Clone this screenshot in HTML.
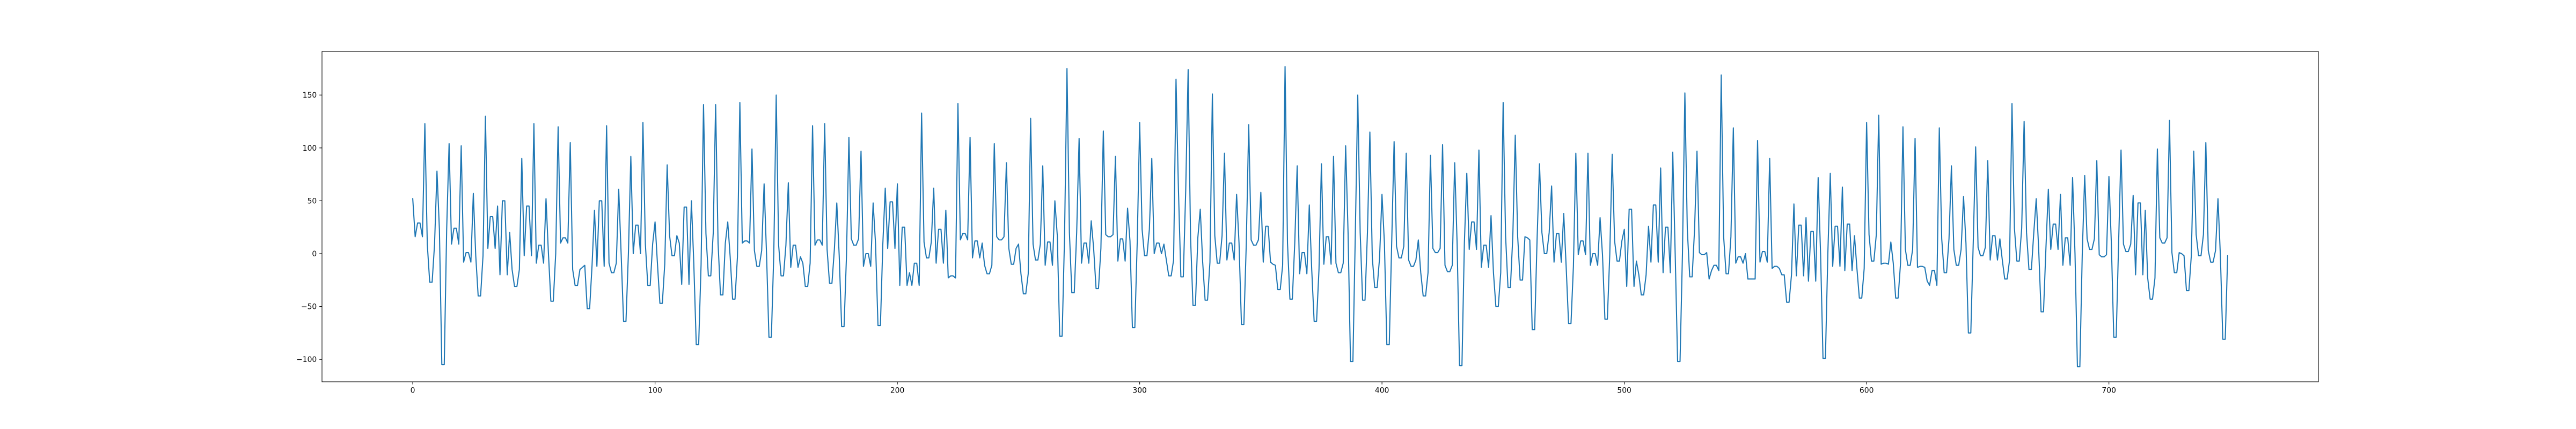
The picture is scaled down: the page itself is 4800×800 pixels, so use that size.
<!DOCTYPE html>
<html><head><meta charset="utf-8"><style>
html,body{margin:0;padding:0;background:#fff;}
svg{display:block;}
text{font-family:"DejaVu Sans","Liberation Sans",sans-serif;font-size:13.9px;fill:#000;}
</style></head><body>
<svg id="chart" width="4800" height="800" viewBox="0 0 4800 800" xmlns="http://www.w3.org/2000/svg">
<rect x="0" y="0" width="4800" height="800" fill="#fff"/>
<g id="xticks"></g>
<g id="yticks"></g>
<path id="series" fill="none" stroke="#1f77b4" stroke-width="2.08" stroke-linejoin="round" stroke-linecap="square"/>
<rect x="600" y="96" width="3720" height="616" fill="none" stroke="#000" stroke-width="1.11"/>
</svg>
<script>
const values = [
52,16,29,29,16, 123,9,-27,-27,9,
78,23,-105,-105,23, 104,9,24,24,9,
102,-8,1,1,-8, 57,-2,-40,-40,-2,
130,5,35,35,5, 45,-20,50,50,-20,
20,-15,-31,-31,-15, 90,-2,45,45,-2,
123,-9,8,8,-9, 52,0,-45,-45,0,
120,10,15,15,10, 105,-15,-30,-30,-15,
-13,-11,-52,-52,-11, 41,-12,50,50,-12,
121,-9,-18,-18,-9, 61,0,-64,-64,0,
92,0,27,27,0, 124,9,-30,-30,9,
30,-10,-47,-47,-10, 84,17,-2,-2,17,
10,-29,44,44,-29, 50,-10,-86,-86,-10,
141,19,-21,-21,19, 141,10,-39,-39,10,
30,-3,-43,-43,-3, 143,10,12,12,10,
99,3,-12,-12,3, 66,0,-79,-79,0,
150,8,-21,-21,8, 67,-13,8,8,-13,
-3,-9,-31,-31,-9, 121,8,13,13,8,
123,4,-28,-28,4, 48,-2,-69,-69,-2,
110,14,8,8,14, 97,-12,0,0,-12,
48,9,-68,-68,9, 62,5,49,49,5,
66,-30,25,25,-30, -18,-30,-9,-9,-30,
133,11,-4,-4,11, 62,-9,23,23,-9,
41,-23,-21,-21,-23, 142,13,19,19,13,
110,-4,12,12,-4, 10,-11,-19,-19,-11,
104,16,13,13,16, 86,5,-10,-10,5,
9,-19,-38,-38,-19, 128,9,-6,-6,9,
83,-11,11,11,-11, 50,17,-78,-78,17,
175,20,-37,-37,20, 109,-9,10,10,-9,
31,5,-33,-33,5, 116,18,16,16,18,
92,-7,14,14,-7, 43,12,-70,-70,12,
124,23,-2,-2,23, 90,0,10,10,0,
9,-6,-21,-21,-6, 165,60,-22,-22,60,
174,15,-49,-49,15, 42,-8,-44,-44,-8,
151,17,-9,-9,17, 95,-6,10,10,-6,
56,10,-67,-67,10, 122,13,8,8,13,
58,-8,26,26,-8, -10,-11,-34,-34,-11,
177,10,-43,-43,10, 83,-19,1,1,-19,
46,-15,-64,-64,-15, 85,-10,16,16,-10,
92,-9,-18,-18,-9, 102,20,-102,-102,20,
150,20,-44,-44,20, 115,-4,-32,-32,-4,
56,10,-86,-86,10, 106,7,-4,-4,7,
95,-6,-12,-12,-6, 13,-18,-40,-40,-18,
93,5,1,1,5, 103,-11,-17,-17,-11,
86,10,-106,-106,10, 76,4,30,30,4,
98,-13,8,8,-13, 36,-18,-50,-50,-18,
143,17,-32,-32,17, 112,16,-25,-25,16,
15,13,-72,-72,13, 85,20,0,0,20,
64,-8,19,19,-8, 38,-12,-66,-66,-12,
95,-1,12,12,-1, 95,-11,0,0,-11,
34,-1,-62,-62,-1, 94,12,-7,-7,12,
23,-31,42,42,-31, -7,-20,-39,-39,-20,
26,-8,46,46,-8, 81,-18,25,25,-18,
96,0,-102,-102,0, 152,23,-22,-22,23,
97,1,-1,-1,1, -24,-16,-11,-11,-16,
169,16,-19,-19,16, 119,-9,-3,-3,-9,
0,-24,-24,-24,-24, 107,-8,2,2,-8,
90,-14,-12,-12,-14, -20,-20,-46,-46,-20,
47,-21,27,27,-21, 34,-26,21,21,-26,
72,0,-99,-99,0, 76,-12,26,26,-12,
63,-16,28,28,-16, 17,-14,-42,-42,-14,
124,18,-7,-7,18, 131,-10,-9,-9,-10,
11,-9,-42,-42,-9, 120,4,-11,-11,4,
109,-13,-12,-12,-13, -26,-30,-16,-16,-30,
119,14,-18,-18,14, 83,4,-11,-11,4,
54,10,-75,-75,10, 101,6,-2,-2,6,
88,-6,17,17,-6, 14,-6,-24,-24,-6,
142,24,-7,-7,24, 125,20,-15,-15,20,
52,5,-55,-55,5, 61,4,28,28,4,
56,-11,15,15,-11, 72,0,-107,-107,0,
74,14,4,4,14, 88,-1,-3,-3,-1,
73,10,-79,-79,10, 98,9,2,2,9,
55,-20,48,48,-20, 41,-23,-43,-43,-23,
99,15,10,10,15, 126,1,-18,-18,1,
0,-2,-35,-35,-2, 97,18,-2,-2,18,
105,3,-8,-8,3, 52,-2,-81,-81,-2
];
const xTicks = [0,100,200,300,400,500,600,700];
const yTicks = [-100,-50,0,50,100,150];

const NS = "http://www.w3.org/2000/svg";
const L = 600, R = 4320, T = 96, B = 712;
const n = values.length;
const xPad = (n - 1) * 0.05;
const xMin = -xPad, xMax = (n - 1) + xPad;
const vMin = Math.min(...values), vMax = Math.max(...values);
const yPad = (vMax - vMin) * 0.05;
const yMin = vMin - yPad, yMax = vMax + yPad;
function xs(v){ return L + (v - xMin) / (xMax - xMin) * (R - L); }
function ys(v){ return B - (v - yMin) / (yMax - yMin) * (B - T); }

let d = "";
values.forEach((v, i) => { d += (i ? "L" : "M") + xs(i).toFixed(2) + "," + ys(v).toFixed(2); });
document.getElementById("series").setAttribute("d", d);

const gx = document.getElementById("xticks");
xTicks.forEach(t => {
  const x = xs(t);
  const ln = document.createElementNS(NS, "line");
  
  
  ln.setAttribute("x1", x); ln.setAttribute("x2", x);
  ln.setAttribute("y1", B); ln.setAttribute("y2", B + 4.86);
  ln.setAttribute("stroke", "#000"); ln.setAttribute("stroke-width", "1.11");
  gx.appendChild(ln);
  const tx = document.createElementNS(NS, "text");
  
  
  tx.setAttribute("x", x); tx.setAttribute("y", B + 4.86 + 4.86 + 11);
  tx.setAttribute("text-anchor", "middle");
  tx.textContent = String(t);
  gx.appendChild(tx);
});
const gy = document.getElementById("yticks");
yTicks.forEach(t => {
  const y = ys(t);
  const ln = document.createElementNS(NS, "line");
  
  
  ln.setAttribute("x1", L - 4.86); ln.setAttribute("x2", L);
  ln.setAttribute("y1", y); ln.setAttribute("y2", y);
  ln.setAttribute("stroke", "#000"); ln.setAttribute("stroke-width", "1.11");
  gy.appendChild(ln);
  const tx = document.createElementNS(NS, "text");
  
  
  tx.setAttribute("x", L - 4.86 - 4.86); tx.setAttribute("y", y + 5);
  tx.setAttribute("text-anchor", "end");
  tx.textContent = t < 0 ? "\u2212" + Math.abs(t) : String(t);
  gy.appendChild(tx);
});
</script>
</body></html>
